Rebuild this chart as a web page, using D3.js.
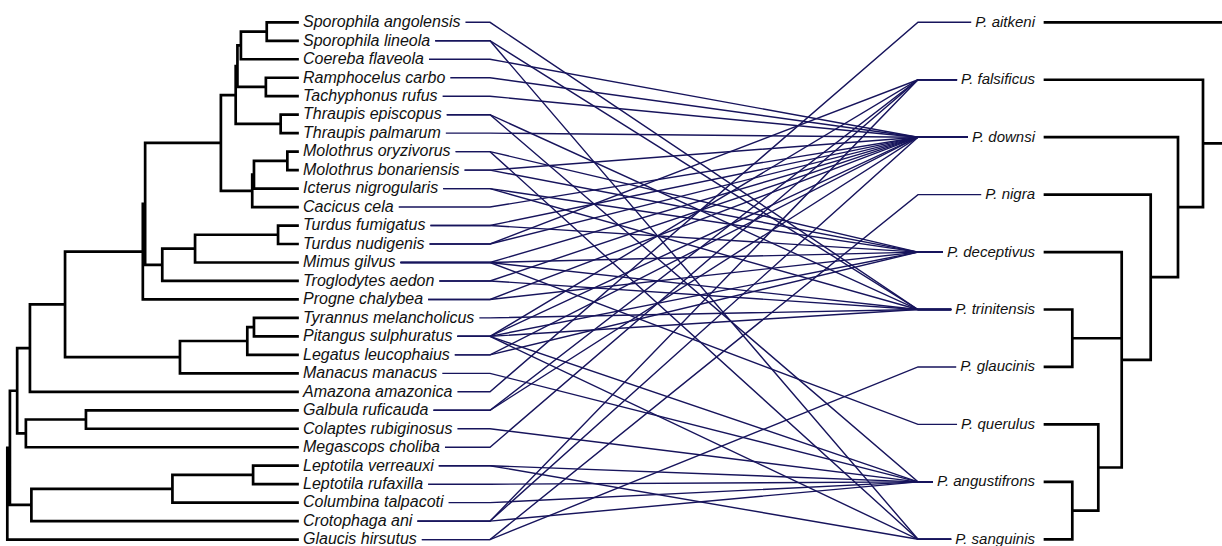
<!DOCTYPE html>
<html>
<head>
<meta charset="utf-8">
<script src="https://cdn.jsdelivr.net/npm/d3@7"></script>
<style>
  html, body { margin: 0; padding: 0; background: #ffffff; }
  svg { display: block; }
  text { font-family: "Liberation Sans", Arial, sans-serif; font-style: italic; fill: #111; }
</style>
</head>
<body>
<svg id="chart" width="1222" height="546"></svg>
<script>
// ---------------- DATA ----------------
// Host tree: [nodeAge, child, child, ...]; leaves are names
const hostTree = [100,
  [99.1,
    [96.6,
      [92.2,
        [80.1,
          [53.3,
            [52.5,
              [26.4,
                [21.3,
                  [20.7,
                    [19.5, [10.6, "Sporophila angolensis", "Sporophila lineola"], "Coereba flaveola"],
                    [10.9, "Ramphocelus carbo", "Tachyphonus rufus"]],
                  [5.8, "Thraupis episcopus", "Thraupis palmarum"]],
                [15.6, [15.0, [3.5, "Molothrus oryzivorus", "Molothrus bonariensis"], "Icterus nigrogularis"], "Cacicus cela"]],
              [46.6, [35.3, [6.7, "Turdus fumigatus", "Turdus nudigenis"], "Mimus gilvus"], "Troglodytes aedon"]],
            "Progne chalybea"],
          [40.5, [17.3, [15.0, "Tyrannus melancholicus", "Pitangus sulphuratus"], "Legatus leucophaius"], "Manacus manacus"]],
        "Amazona amazonica"],
      [93.6, [72.9, "Galbula ruficauda", "Colaptes rubiginosus"], "Megascops choliba"]],
    [91.7, [43.1, [15.3, "Leptotila verreauxi", "Leptotila rufaxilla"], "Columbina talpacoti"], "Crotophaga ani"]],
  "Glaucis hirsutus"];

// Parasite tree
const parasiteTree = [185, "P. aitkeni",
  [158, "P. falsificus",
    [133, "P. downsi",
      [105.7, "P. nigra",
        [76.7, "P. deceptivus",
          [27.3, "P. trinitensis", "P. glaucinis"],
          [53.3, "P. querulus", [27.3, "P. angustifrons", "P. sanguinis"]]]]]]];

// Host -> parasite associations
const associations = [
  ["Sporophila angolensis", "P. trinitensis"],
  ["Sporophila lineola", "P. trinitensis"],
  ["Sporophila lineola", "P. sanguinis"],
  ["Coereba flaveola", "P. downsi"],
  ["Ramphocelus carbo", "P. downsi"],
  ["Tachyphonus rufus", "P. downsi"],
  ["Thraupis episcopus", "P. trinitensis"],
  ["Thraupis episcopus", "P. angustifrons"],
  ["Thraupis palmarum", "P. downsi"],
  ["Molothrus oryzivorus", "P. deceptivus"],
  ["Molothrus oryzivorus", "P. sanguinis"],
  ["Molothrus bonariensis", "P. downsi"],
  ["Molothrus bonariensis", "P. deceptivus"],
  ["Icterus nigrogularis", "P. deceptivus"],
  ["Icterus nigrogularis", "P. trinitensis"],
  ["Cacicus cela", "P. downsi"],
  ["Turdus fumigatus", "P. downsi"],
  ["Turdus fumigatus", "P. deceptivus"],
  ["Turdus nudigenis", "P. downsi"],
  ["Turdus nudigenis", "P. falsificus"],
  ["Mimus gilvus", "P. downsi"],
  ["Mimus gilvus", "P. deceptivus"],
  ["Mimus gilvus", "P. trinitensis"],
  ["Mimus gilvus", "P. querulus"],
  ["Troglodytes aedon", "P. downsi"],
  ["Troglodytes aedon", "P. trinitensis"],
  ["Progne chalybea", "P. downsi"],
  ["Progne chalybea", "P. deceptivus"],
  ["Tyrannus melancholicus", "P. trinitensis"],
  ["Pitangus sulphuratus", "P. falsificus"],
  ["Pitangus sulphuratus", "P. downsi"],
  ["Pitangus sulphuratus", "P. deceptivus"],
  ["Pitangus sulphuratus", "P. trinitensis"],
  ["Pitangus sulphuratus", "P. angustifrons"],
  ["Pitangus sulphuratus", "P. sanguinis"],
  ["Legatus leucophaius", "P. downsi"],
  ["Legatus leucophaius", "P. deceptivus"],
  ["Manacus manacus", "P. angustifrons"],
  ["Amazona amazonica", "P. aitkeni"],
  ["Galbula ruficauda", "P. falsificus"],
  ["Galbula ruficauda", "P. downsi"],
  ["Colaptes rubiginosus", "P. angustifrons"],
  ["Megascops choliba", "P. falsificus"],
  ["Leptotila verreauxi", "P. angustifrons"],
  ["Leptotila verreauxi", "P. sanguinis"],
  ["Leptotila rufaxilla", "P. angustifrons"],
  ["Columbina talpacoti", "P. angustifrons"],
  ["Crotophaga ani", "P. falsificus"],
  ["Crotophaga ani", "P. downsi"],
  ["Crotophaga ani", "P. angustifrons"],
  ["Glaucis hirsutus", "P. nigra"],
  ["Glaucis hirsutus", "P. glaucinis"]
];

// ---------------- HELPERS ----------------
function toHierarchy(node) {
  if (typeof node === "string") return { name: node, age: 0 };
  const [age, ...kids] = node;
  return { age, children: kids.map(toHierarchy) };
}

function layoutTree(tree, yScale, xScale) {
  const root = d3.hierarchy(toHierarchy(tree));
  root.eachAfter(n => {
    n.px = xScale(n.data.age);
    if (!n.children) n.py = yScale(n.data.name);
    else n.py = (n.children[0].py + n.children[n.children.length - 1].py) / 2;
  });
  return root;
}

function drawTree(g, root) {
  const segs = [];
  root.each(n => {
    if (n.children) {
      const first = n.children[0], last = n.children[n.children.length - 1];
      segs.push(`M${n.px},${first.py}V${last.py}`);
      n.children.forEach(c => segs.push(`M${n.px},${c.py}H${c.px}`));
    }
  });
  g.append("path")
    .attr("d", segs.join(""))
    .attr("fill", "none")
    .attr("stroke", "#000")
    .attr("stroke-width", 2.7)
    .attr("stroke-linecap", "square");
}

// ---------------- SCALES ----------------
const svg = d3.select("#chart");
const hostNames = d3.hierarchy(toHierarchy(hostTree)).leaves().map(d => d.data.name);
const paraNames = d3.hierarchy(toHierarchy(parasiteTree)).leaves().map(d => d.data.name);

const yHost = d3.scalePoint().domain(hostNames).range([22.3, 539.6]);
const yPara = d3.scalePoint().domain(paraNames).range([22.3, 539.3]);
const xHost = d3.scaleLinear().domain([0, 100]).range([297.5, 7.3]);
const xPara = d3.scaleLinear().domain([0, 185]).range([1045, 1230]);

const hostRoot = layoutTree(hostTree, yHost, xHost);
const paraRoot = layoutTree(parasiteTree, yPara, xPara);

// ---------------- LABELS ----------------
const hostLabelX = 303, paraLabelX = 1035;
const gLinks = svg.append("g");
const gHostLbl = svg.append("g");
const gParaLbl = svg.append("g");

const hostText = gHostLbl.selectAll("text").data(hostNames).join("text")
  .attr("x", hostLabelX).attr("y", d => yHost(d)).attr("dy", "0.3em")
  .attr("font-size", 16).text(d => d);
const paraText = gParaLbl.selectAll("text").data(paraNames).join("text")
  .attr("x", paraLabelX).attr("y", d => yPara(d)).attr("dy", "0.3em")
  .attr("text-anchor", "end").attr("font-size", 15).text(d => d);

const hostEnd = {};
hostText.each(function(d) { hostEnd[d] = hostLabelX + this.getComputedTextLength(); });
const paraStart = {};
paraText.each(function(d) { paraStart[d] = paraLabelX - this.getComputedTextLength(); });

// ---------------- LINKS ----------------
const linkLeftX = 490, linkRightX = 918;
gLinks.selectAll("path").data(associations).join("path")
  .attr("d", ([h, p]) => {
    const hy = yHost(h), py = yPara(p);
    return `M${hostEnd[h] + 5},${hy}H${linkLeftX}L${linkRightX},${py}H${paraStart[p] - 4}`;
  })
  .attr("fill", "none")
  .attr("stroke", "#17145c")
  .attr("stroke-width", 1.4);

// ---------------- TREES ----------------
drawTree(svg.append("g"), hostRoot);
drawTree(svg.append("g"), paraRoot);
</script>
</body>
</html>
